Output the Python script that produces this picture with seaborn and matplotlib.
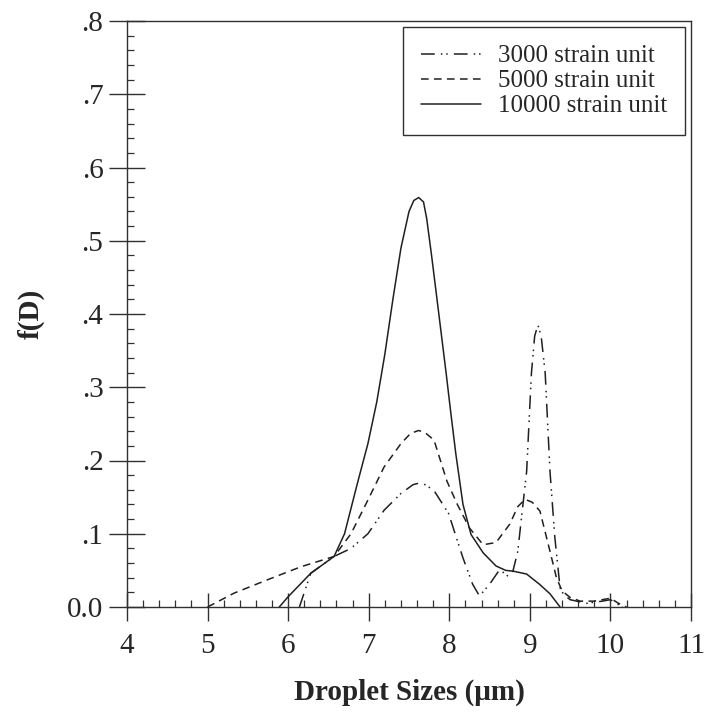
import numpy as np
import pandas as pd
import seaborn as sns
import matplotlib
matplotlib.use("Agg")
import matplotlib.pyplot as plt
from matplotlib.ticker import MultipleLocator

# ---- data ----
series_names = ["3000 strain unit", "5000 strain unit", "10000 strain unit"]

x3000 = [6.14, 6.28, 6.57, 6.78, 6.99, 7.19, 7.40, 7.55, 7.62, 7.70, 7.81, 7.99, 8.17,
         8.29, 8.375, 8.5, 8.625, 8.73, 8.79, 8.85, 8.96, 9.02, 9.06, 9.10, 9.14,
         9.19, 9.25, 9.31, 9.375, 9.42, 9.5, 9.7, 9.9, 10.0, 10.15]
y3000 = [0.0, 0.046, 0.069, 0.08, 0.10, 0.132, 0.155, 0.167, 0.169, 0.167, 0.159, 0.128, 0.067,
         0.031, 0.015, 0.031, 0.051, 0.042, 0.049, 0.076, 0.185, 0.32, 0.37, 0.385, 0.37,
         0.32, 0.185, 0.095, 0.026, 0.017, 0.01, 0.005, 0.008, 0.01, 0.0]

x5000 = [5.0, 5.33, 5.74, 6.16, 6.57, 6.78, 6.99, 7.19, 7.40, 7.52, 7.62, 7.70, 7.81, 7.97,
         8.10, 8.25, 8.42, 8.58, 8.75, 8.85, 8.94, 9.03, 9.125, 9.25, 9.33, 9.40,
         9.5, 9.625, 9.8, 9.9, 10.0, 10.1, 10.2]
y5000 = [0.0, 0.019, 0.037, 0.055, 0.069, 0.10, 0.146, 0.191, 0.223, 0.237, 0.241, 0.238, 0.228, 0.172,
         0.14, 0.108, 0.085, 0.088, 0.113, 0.137, 0.147, 0.143, 0.131, 0.076, 0.04, 0.022,
         0.013, 0.008, 0.008, 0.01, 0.012, 0.005, 0.0]

x10000 = [5.89, 6.0, 6.28, 6.57, 6.70, 6.86, 6.99, 7.10, 7.20, 7.30, 7.40, 7.50, 7.56, 7.62,
          7.68, 7.72, 7.78, 7.85, 7.96, 8.02, 8.08, 8.17, 8.27, 8.42, 8.58, 8.70, 8.79,
          8.96, 9.12, 9.25, 9.375]
y10000 = [0.0, 0.014, 0.046, 0.069, 0.10, 0.169, 0.223, 0.28, 0.345, 0.42, 0.49, 0.54, 0.555, 0.559,
          0.553, 0.53, 0.48, 0.418, 0.32, 0.264, 0.21, 0.14, 0.099, 0.074, 0.056, 0.050, 0.049,
          0.045, 0.031, 0.018, 0.0]

xticks = [4, 5, 6, 7, 8, 9, 10, 11]
yticks = [0.0, 0.1, 0.2, 0.3, 0.4, 0.5, 0.6, 0.7, 0.8]
ytick_labels = ["0.0", ".1", ".2", ".3", ".4", ".5", ".6", ".7", ".8"]

df = pd.concat([
    pd.DataFrame({"x": x3000, "y": y3000, "series": series_names[0]}),
    pd.DataFrame({"x": x5000, "y": y5000, "series": series_names[1]}),
    pd.DataFrame({"x": x10000, "y": y10000, "series": series_names[2]}),
], ignore_index=True)

sns.set_style("ticks")
plt.rcParams["font.family"] = ["Liberation Serif", "DejaVu Serif"]

fig = plt.figure(figsize=(7.08, 7.16), dpi=100)
ax = fig.add_axes([127 / 708, (716 - 607) / 716, (691 - 127) / 708, (607 - 21) / 716])

dashes = {
    series_names[0]: (9, 4, 1, 2.5, 1, 4),
    series_names[1]: (5, 3.5),
    series_names[2]: "",
}
sns.lineplot(data=df, x="x", y="y", style="series", style_order=series_names,
             dashes=dashes, color="#202020", linewidth=1.1, estimator=None,
             sort=False, ax=ax)

ax.set_xlim(4, 11)
ax.set_ylim(0, 0.8)
ax.set_xticks(xticks)
ax.set_xticklabels([str(t) for t in xticks])
ax.set_yticks(yticks)
ax.set_yticklabels(ytick_labels)
ax.xaxis.set_minor_locator(MultipleLocator(0.2))
ax.yaxis.set_minor_locator(MultipleLocator(0.02))

for s in ax.spines.values():
    s.set_linewidth(1.0)
    s.set_color("#303030")

ax.tick_params(axis="x", which="major", direction="inout", length=20, width=1.0,
               labelsize=21, pad=9, color="#303030")
ax.tick_params(axis="y", which="major", direction="inout", length=26, width=1.0,
               labelsize=21, pad=4, color="#303030")
ax.tick_params(which="minor", direction="in", length=5, width=0.9, color="#303030")
ax.tick_params(top=False, right=False, which="both")

ax.set_xlabel("Droplet Sizes (μm)", fontsize=21, fontweight="bold", labelpad=14)
ax.set_ylabel("f(D)", fontsize=21, fontweight="bold", labelpad=16)

leg = ax.legend(loc="upper right", fontsize=18, frameon=True, fancybox=False,
                edgecolor="#303030", handlelength=2.4, handletextpad=0.7,
                labelspacing=0.1, borderpad=0.7, borderaxespad=0.25)
leg.get_frame().set_linewidth(1.0)
leg.get_frame().set_alpha(1)

fig.savefig("out.png", dpi=100)
